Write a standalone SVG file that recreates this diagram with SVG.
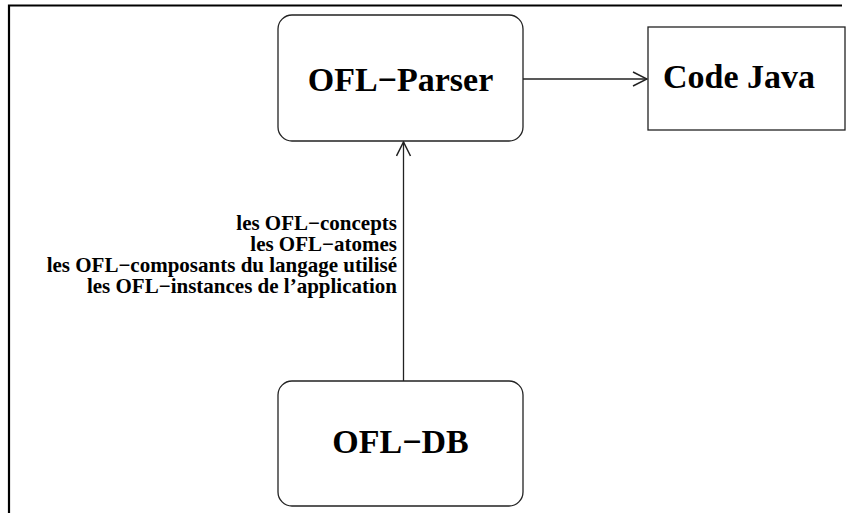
<svg xmlns="http://www.w3.org/2000/svg" width="847" height="513" viewBox="0 0 847 513">
<defs>
<style>
.box{fill:#fff;stroke:#222;stroke-width:1.3}
.frame{fill:none;stroke:#000;stroke-width:2.2}
.big{font-family:"Liberation Serif","Times New Roman",serif;font-weight:bold;font-size:34px;fill:#000}
.lbl{font-family:"Liberation Serif","Times New Roman",serif;font-weight:bold;font-size:21px;fill:#000;text-anchor:end}
.edge{fill:none;stroke:#222;stroke-width:1.3}
</style>
<marker id="arr" markerWidth="16" markerHeight="16" viewBox="0 0 16 16" refX="15" refY="8" orient="auto" markerUnits="userSpaceOnUse">
<path d="M1,1 L15,8 L1,15" fill="none" stroke="#222" stroke-width="1.5"/>
</marker>
</defs>
<rect width="847" height="513" fill="#fff"/>
<path class="frame" d="M9,513 V5.5 H842"/>
<g id="connectors">
<line class="edge" x1="523" y1="79" x2="647" y2="79" marker-end="url(#arr)"/>
<line class="edge" x1="403.5" y1="381" x2="403.5" y2="142" marker-end="url(#arr)"/>
<g id="edge-label">
<text class="lbl" x="397" y="230">les OFL−concepts</text>
<text class="lbl" x="397" y="251">les OFL−atomes</text>
<text class="lbl" x="397" y="272">les OFL−composants du langage utilisé</text>
<text class="lbl" x="397" y="293">les OFL−instances de l’application</text>
</g>
</g>
<g id="ofl-parser">
<rect class="box" x="278" y="15" width="245" height="126" rx="14"/>
<text class="big" x="400.5" y="91" text-anchor="middle">OFL−Parser</text>
</g>
<g id="code-java">
<rect class="box" x="648" y="27" width="197" height="103"/>
<text class="big" x="663" y="88">Code Java</text>
</g>
<g id="ofl-db">
<rect class="box" x="278" y="381" width="245" height="125" rx="14"/>
<text class="big" x="400.5" y="453" text-anchor="middle">OFL−DB</text>
</g>
</svg>
